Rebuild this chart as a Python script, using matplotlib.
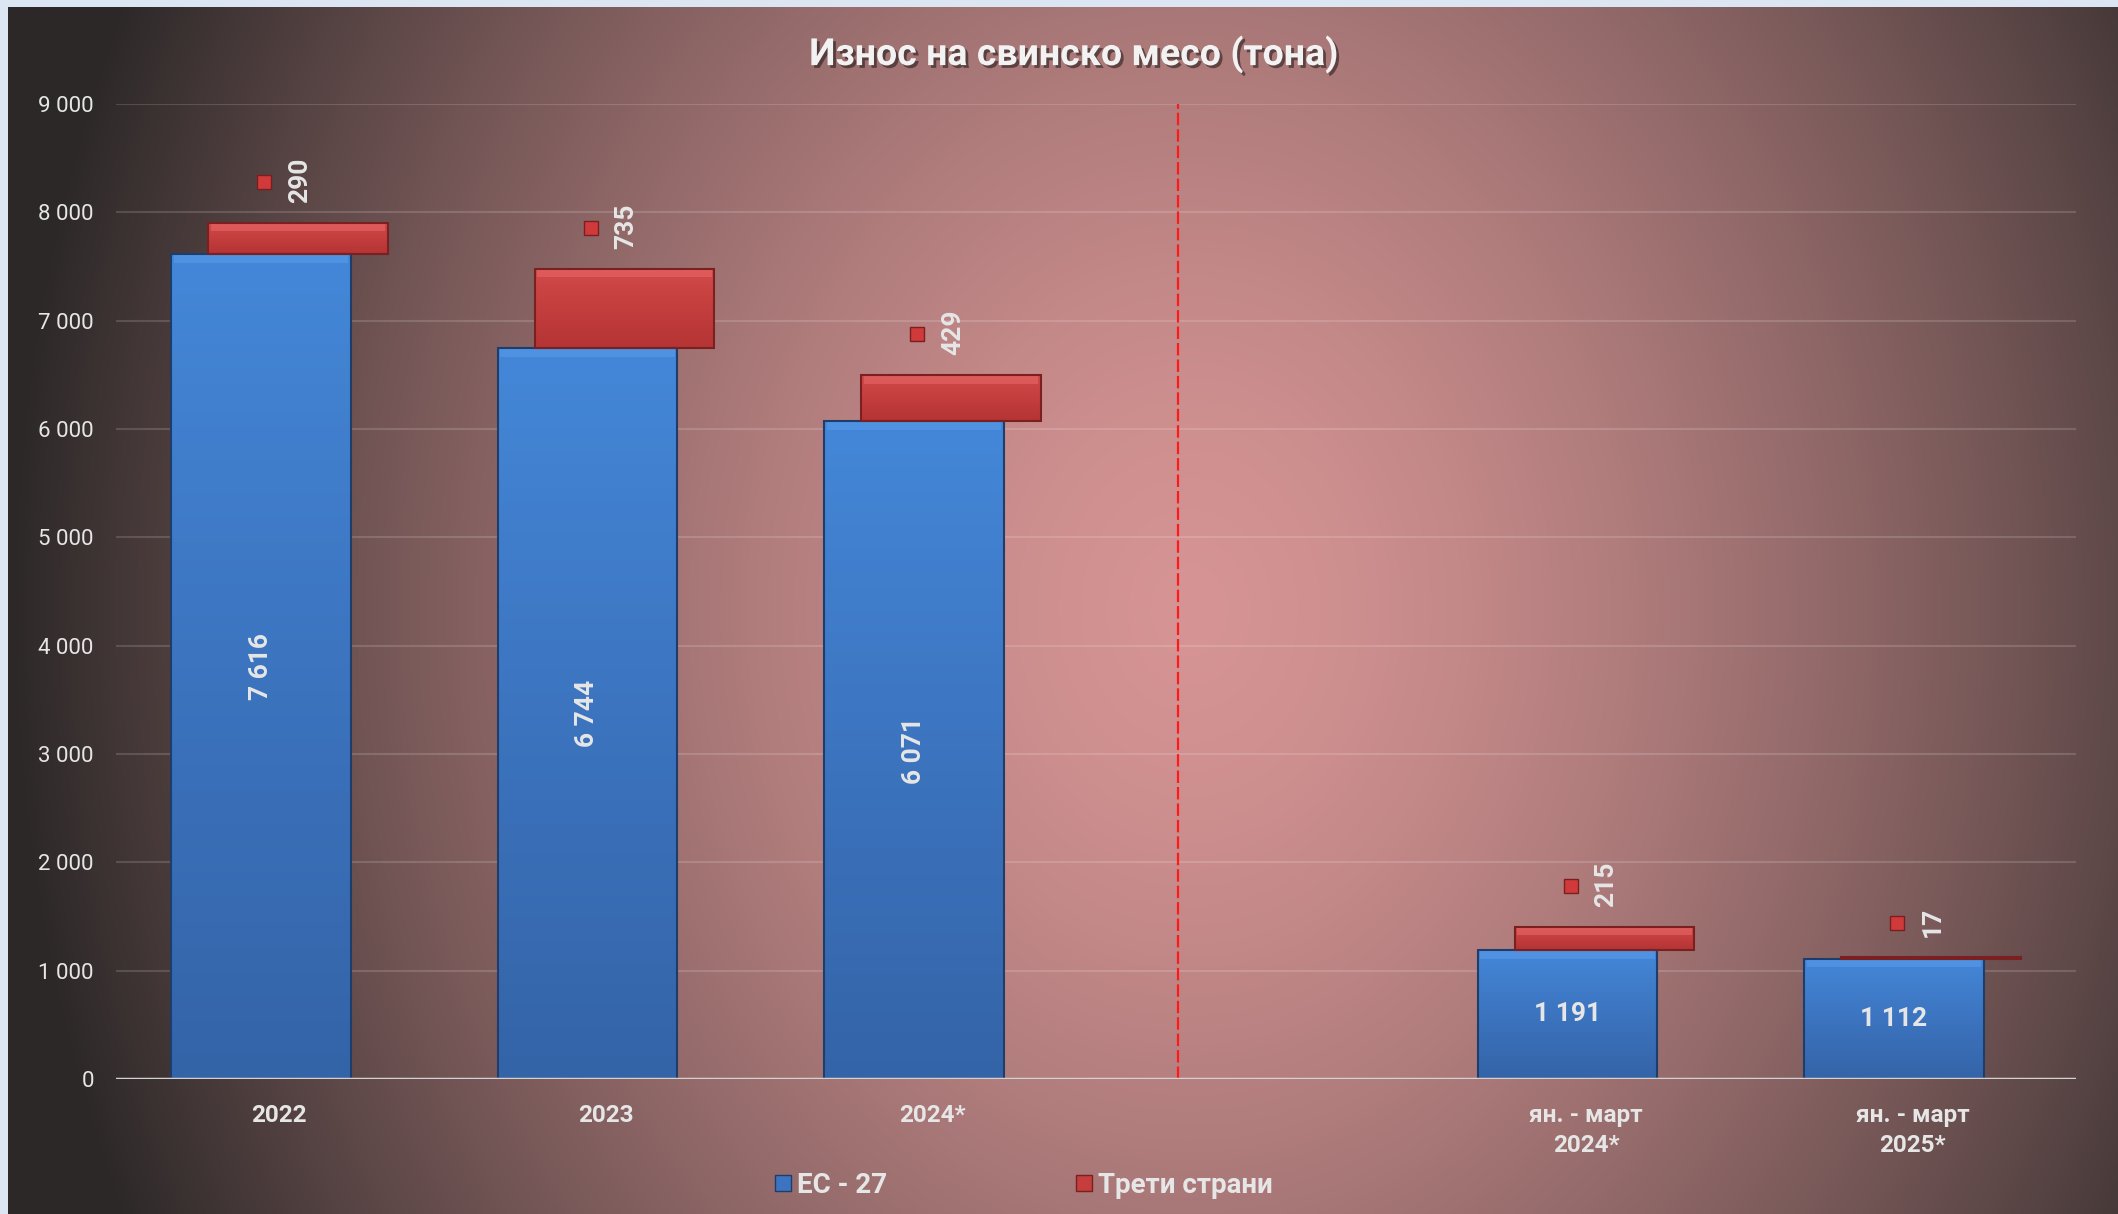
import numpy as np
import matplotlib.pyplot as plt
import matplotlib.transforms as mtransforms
import matplotlib.patheffects as pe
from matplotlib.lines import Line2D
from matplotlib.colors import LinearSegmentedColormap

# data
categories = ['2022', '2023', '2024*', '', 'ян. - март\n2024*', 'ян. - март\n2025*']
eu27 = [7616, 6744, 6071, np.nan, 1191, 1112]
third = [290, 735, 429, np.nan, 215, 17]
eu_labels = ['7 616', '6 744', '6 071', '', '1 191', '1 112']
third_labels = ['290', '735', '429', '', '215', '17']
yticks = [0, 1000, 2000, 3000, 4000, 5000, 6000, 7000, 8000, 9000]
ytick_labels = ['0', '1 000', '2 000', '3 000', '4 000', '5 000', '6 000', '7 000', '8 000', '9 000']
divider_x = 2.75

FONT = ['Liberation Sans Narrow', 'Roboto', 'DejaVu Sans']
TXT = '#e6e6e6'

fig = plt.figure(figsize=(21.18, 12.14), dpi=100, facecolor='#dce6f2')

# background: radial gradient, pink in the middle, dark at the edges
bg = fig.add_axes([8 / 2118, 0, 1 - 8 / 2118, 1 - 7 / 1214])
H, W = 400, 700
xx, yy = np.meshgrid(np.linspace(0, 1, W), np.linspace(0, 1, H))
t = np.sqrt(((xx - 0.56) / 0.56) ** 2 + ((yy - 0.5) / 1.2) ** 2)
t = np.clip(t, 0, 1) ** 1.5
center = np.array([214, 148, 148]) / 255
edge = np.array([44, 40, 40]) / 255
img = center[None, None, :] * (1 - t[..., None]) + edge[None, None, :] * t[..., None]
bg.imshow(img, aspect='auto', extent=[0, 1, 0, 1], interpolation='bilinear')
bg.axis('off')

ax = fig.add_axes([116 / 2118, 1 - 1079 / 1214, (2076 - 116) / 2118, (1079 - 104) / 1214])
ax.patch.set_alpha(0)

x = np.arange(len(categories))
width = 0.55
off = 0.057

blue_cmap = LinearSegmentedColormap.from_list('b', ['#3464a8', '#3c74bf', '#4487d8'])
red_cmap = LinearSegmentedColormap.from_list('r', ['#b53434', '#c43e3e', '#d24a4a'])
grad = np.linspace(0, 1, 100).reshape(-1, 1)
bevel = 80  # data units of top highlight


def gradient_bars(xs, heights, bottoms, cmap, edgecol, topcol):
    bars = ax.bar(xs, heights, width, bottom=bottoms, color='none',
                  edgecolor=edgecol, linewidth=1.5, zorder=3)
    for b in bars:
        x0, y0 = b.get_x(), b.get_y()
        w, h = b.get_width(), b.get_height()
        if np.isnan(h) or h <= 0:
            continue
        im = ax.imshow(grad, cmap=cmap, aspect='auto', origin='lower',
                       extent=(x0, x0 + w, y0, y0 + h), zorder=2)
        im.set_clip_path(b)
        hh = min(bevel, h)
        ax.bar(x0 + w / 2, hh, w * 0.97, bottom=y0 + h - hh, color=topcol,
               alpha=0.55, linewidth=0, zorder=2.5)
    return bars


eu = np.array(eu27, dtype=float)
th = np.array(third, dtype=float)
gradient_bars(x - off, eu, 0, blue_cmap, '#1f3d6b', '#5b9cec')
gradient_bars(x + off, th, eu, red_cmap, '#7a2020', '#ea6a6a')

# value labels
for i in range(len(x)):
    if np.isnan(eu[i]):
        continue
    rot = 90 if eu[i] > 3000 else 0
    ax.text(x[i] - off, eu[i] / 2, eu_labels[i], rotation=rot, ha='center', va='center',
            color=TXT, fontsize=19, fontweight='bold', family=FONT, zorder=5)
    top = eu[i] + th[i]
    tr = mtransforms.offset_copy(ax.transData, fig=fig, x=2, y=20, units='dots')
    ax.text(x[i] + off, top, third_labels[i], rotation=90, ha='center', va='bottom',
            color=TXT, fontsize=19, fontweight='bold', family=FONT, transform=tr, zorder=5)
    mk = mtransforms.offset_copy(ax.transData, fig=fig, x=-34,
                                 y=20 + len(third_labels[i]) * 6.8, units='dots')
    ax.plot([x[i] + off], [top], marker='s', markersize=10, color='#d03a3a',
            markeredgecolor='#7a1f1f', transform=mk, zorder=5)

ax.vlines(divider_x, 0, 9000, colors='#ff1a1a', linestyles=(0, (5.6, 1.8)), lw=1.6, zorder=4)

ax.set_xlim(-0.5, len(categories) - 0.5)
ax.set_ylim(0, 9000)
ax.set_yticks(yticks)
ax.set_yticklabels(ytick_labels, color=TXT, fontsize=16, family=FONT)
ax.set_xticks(x)
ax.set_xticklabels(categories, color=TXT, fontsize=17.5, fontweight='bold', family=FONT,
                   linespacing=1.4)
ax.tick_params(axis='y', length=0, pad=16)
ax.tick_params(axis='x', length=0, pad=18)
ax.yaxis.grid(True, color='white', alpha=0.15, lw=1.5)
ax.set_axisbelow(True)
for s in ax.spines.values():
    s.set_visible(False)
ax.axhline(0, color='#d2d2d2', lw=2.5, zorder=4)

fig.text(0.507, 0.9555, 'Износ на свинско месо (тона)', ha='center', va='center',
         color='#f2f2f2', fontsize=27, fontweight='bold', family=FONT,
         path_effects=[pe.SimplePatchShadow(offset=(2, -2), shadow_rgbFace='black', alpha=0.45),
                       pe.Normal()])

handles = [Line2D([], [], marker='s', ls='', markersize=11, color='#3c74bf', markeredgecolor='#1f3d6b'),
           Line2D([], [], marker='s', ls='', markersize=11, color='#c43e3e', markeredgecolor='#7a2020')]
fig.legend(handles, ['ЕС - 27', 'Трети страни'], loc='center', bbox_to_anchor=(0.482, 0.0235),
           ncol=2, frameon=False, handletextpad=0.0, handlelength=1.0, columnspacing=6.6,
           prop={'family': FONT, 'size': 20, 'weight': 'bold'}, labelcolor=TXT)

fig.savefig('out.png', dpi=100, facecolor=fig.get_facecolor())
